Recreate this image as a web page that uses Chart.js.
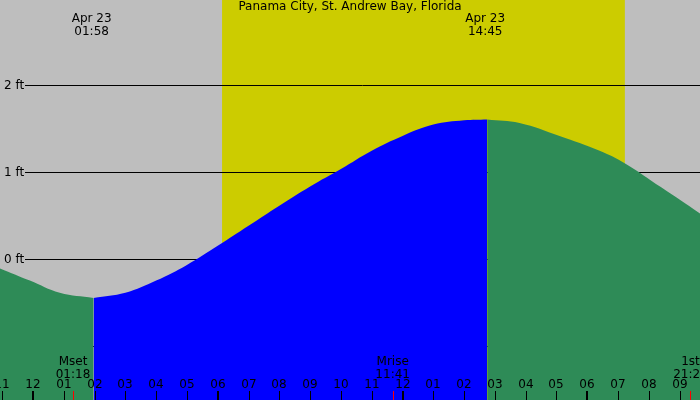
<!DOCTYPE html>
<html>
<head>
<script src="https://cdn.jsdelivr.net/npm/chart.js@4"></script>
<style>
  body { margin: 0; background: #bebebe; }
  #wrap { width: 700px; height: 400px; }
</style>
</head>
<body>
<div id="wrap"><canvas id="chart"></canvas></div>
<script>
// hours since midnight Apr 23, tide height in ft
const risingHours = [1.97, 3, 4, 5, 6, 7, 8, 9, 10, 11, 12, 13, 14, 14.75];
const risingFeet = [-0.45, -0.39, -0.25, -0.07, 0.15, 0.38, 0.61, 0.83, 1.03, 1.24, 1.41, 1.54, 1.59, 1.6];
const beforeHours = [-1.07, -0.1, 0.87, 1.97];
const beforeFeet = [-0.11, -0.25, -0.39, -0.45];
const afterHours = [14.75, 15.8, 17.1, 18.4, 19.2, 20.4, 21.66];
const afterFeet = [1.6, 1.56, 1.41, 1.24, 1.1, 0.82, 0.52];
const feetTicks = [-1, 0, 1, 2];
const hourLabels = ['11','12','01','02','03','04','05','06','07','08','09','10','11','12','01','02','03','04','05','06','07','08','09'];
const daylight = [6.14, 19.22];
const extremes = [{ h: 1.97, text: ['Apr 23', '01:58'] }, { h: 14.75, text: ['Apr 23', '14:45'] }];
const moonEvents = [{ h: 1.3, text: ['Mset', '01:18'] }, { h: 11.68, text: ['Mrise', '11:41'] }, { h: 21.35, text: ['1st', '21:21'] }];

const pts = (xs, ys) => xs.map((x, i) => ({ x: x, y: ys[i] }));

const backdrop = {
    id: 'backdrop',
    beforeDatasetsDraw(chart) {
        const { ctx, scales: { x, y }, chartArea: a } = chart;
        ctx.save();
        ctx.fillStyle = '#cccc00';
        ctx.fillRect(x.getPixelForValue(daylight[0]), a.top, x.getPixelForValue(daylight[1]) - x.getPixelForValue(daylight[0]), a.bottom - a.top);
        ctx.strokeStyle = '#000';
        ctx.lineWidth = 1;
        ctx.font = '12px "DejaVu Sans", sans-serif';
        ctx.fillStyle = '#000';
        ctx.textBaseline = 'middle';
        feetTicks.forEach(v => {
            const py = Math.round(y.getPixelForValue(v)) + 0.5;
            ctx.beginPath(); ctx.moveTo(25, py); ctx.lineTo(a.right, py); ctx.stroke();
            ctx.fillText(v + ' ft', 4, py);
        });
        ctx.restore();
    },
    afterDatasetsDraw(chart) {
        const { ctx, scales: { x, y }, chartArea: a } = chart;
        ctx.save();
        ctx.fillStyle = '#000';
        ctx.font = '12px "DejaVu Sans", sans-serif';
        ctx.textAlign = 'center';
        ctx.textBaseline = 'middle';
        ctx.fillText('Panama City, St. Andrew Bay, Florida', 350, 7);
        extremes.forEach(e => {
            const px = x.getPixelForValue(e.h);
            ctx.fillText(e.text[0], px - 2, 19);
            ctx.fillText(e.text[1], px - 2, 32);
        });
        moonEvents.forEach(e => {
            const px = x.getPixelForValue(e.h);
            ctx.fillText(e.text[0], px, 362);
            ctx.fillText(e.text[1], px, 375);
            ctx.fillStyle = '#ff0000';
            ctx.fillRect(Math.round(px), 391, 1, 9);
            ctx.fillStyle = '#000';
        });
        hourLabels.forEach((lab, i) => {
            const h = i - 1;
            const px = Math.round(x.getPixelForValue(h));
            ctx.fillText(lab, px, 385);
            const bold = h % 6 === 0;
            ctx.fillRect(bold ? px - 1 : px, 391, bold ? 2 : 1, 9);
        });
        ctx.restore();
    }
};

new Chart(document.getElementById('chart'), {
    type: 'line',
    data: {
        datasets: [
            { data: pts(beforeHours, beforeFeet), borderWidth: 0, pointRadius: 0, fill: 'start', backgroundColor: '#2e8b57', tension: 0.4 },
            { data: pts(risingHours, risingFeet), borderWidth: 0, pointRadius: 0, fill: 'start', backgroundColor: '#0000ff', tension: 0.4 },
            { data: pts(afterHours, afterFeet), borderWidth: 0, pointRadius: 0, fill: 'start', backgroundColor: '#2e8b57', tension: 0.4 }
        ]
    },
    options: {
        responsive: true,
        maintainAspectRatio: false,
        animation: false,
        layout: { padding: 0 },
        scales: {
            x: { type: 'linear', min: -1.07, max: 21.66, display: false },
            y: { min: -1.62, max: 2.97, display: false }
        },
        plugins: { legend: { display: false }, tooltip: { enabled: false } }
    },
    plugins: [backdrop]
});
</script>
</body>
</html>
